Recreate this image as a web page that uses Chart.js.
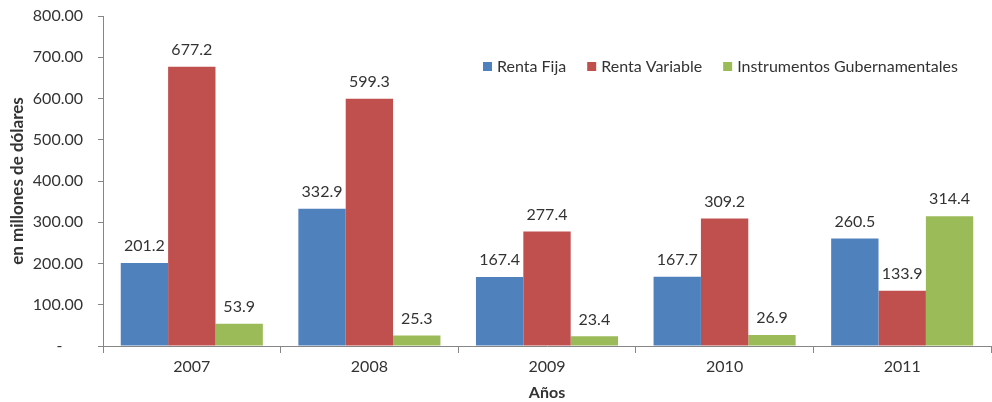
<!DOCTYPE html>
<html>
<head>
<meta charset="utf-8">
<script src="https://cdn.jsdelivr.net/npm/chart.js@4"></script>
<style>
  body { margin: 0; background: #fff; }
  #wrap { width: 992px; height: 402px; }
</style>
</head>
<body>
<div id="wrap"><canvas id="myChart" width="992" height="402"></canvas></div>
<script>
const years = ['2007', '2008', '2009', '2010', '2011'];
const rentaFija = [201.2, 332.9, 167.4, 167.7, 260.5];
const rentaVariable = [677.2, 599.3, 277.4, 309.2, 133.9];
const gubernamentales = [53.9, 25.3, 23.4, 26.9, 314.4];
const seriesNames = ['Renta Fija', 'Renta Variable', 'Instrumentos Gubernamentales'];
const colors = ['#4F81BD', '#C0504D', '#9BBB59'];

const FONT = 'Lato, Calibri, sans-serif';
const TXT = '#333333';

// etiquetas encima de cada barra
const barLabels = {
    id: 'barLabels',
    afterDatasetsDraw(chart) {
        const ctx = chart.ctx;
        ctx.save();
        ctx.font = '16px ' + FONT;
        ctx.fillStyle = TXT;
        ctx.textAlign = 'center';
        ctx.textBaseline = 'bottom';
        chart.data.datasets.forEach((ds, i) => {
            chart.getDatasetMeta(i).data.forEach((bar, j) => {
                ctx.fillText(ds.data[j].toFixed(1), bar.x, bar.y - 9);
            });
        });
        ctx.restore();
    }
};

// leyenda dentro del área del gráfico
const innerLegend = {
    id: 'innerLegend',
    afterDraw(chart) {
        const ctx = chart.ctx;
        ctx.save();
        ctx.font = '16px ' + FONT;
        ctx.textBaseline = 'middle';
        let x = 483;
        const y = 67;
        chart.data.datasets.forEach((ds, i) => {
            ctx.fillStyle = ds.backgroundColor;
            ctx.fillRect(x, y - 5, 9, 9);
            ctx.fillStyle = TXT;
            ctx.fillText(ds.label, x + 14, y);
            x += 14 + ctx.measureText(ds.label).width + 21;
        });
        ctx.restore();
    }
};

new Chart(document.getElementById('myChart'), {
    type: 'bar',
    data: {
        labels: years,
        datasets: [
            { label: seriesNames[0], data: rentaFija, backgroundColor: colors[0] },
            { label: seriesNames[1], data: rentaVariable, backgroundColor: colors[1] },
            { label: seriesNames[2], data: gubernamentales, backgroundColor: colors[2] }
        ]
    },
    options: {
        responsive: false,
        animation: false,
        layout: { padding: { top: 16, right: 1, left: 0, bottom: 0 } },
        datasets: { bar: { categoryPercentage: 0.8, barPercentage: 1.0 } },
        plugins: {
            legend: { display: false },
            tooltip: { enabled: false }
        },
        scales: {
            x: {
                grid: { drawOnChartArea: false, color: '#868686', tickLength: 7, offset: true },
                border: { color: '#868686' },
                ticks: { color: TXT, font: { family: FONT, size: 16 }, padding: 4 },
                title: { display: true, text: 'Años', color: TXT, font: { family: FONT, size: 16, weight: 'bold' }, padding: { top: 8, bottom: 0 } },
                afterFit(scale) { scale.height = 56; scale.paddingLeft = 0; scale.paddingRight = 0; }
            },
            y: {
                min: 0,
                max: 800,
                grid: { drawOnChartArea: false, color: '#868686', tickLength: 5 },
                border: { color: '#868686' },
                ticks: {
                    stepSize: 100,
                    color: TXT,
                    padding: 15,
                    font: { family: FONT, size: 16 },
                    callback: function(value) {
                        return value === 0 ? '-     ' : value.toFixed(2);
                    }
                },
                title: { display: true, text: 'en millones de dólares', color: TXT, font: { family: FONT, size: 17, weight: 'bold' }, padding: { top: 7, bottom: 0 } },
                afterFit(scale) { scale.width = 103; scale.paddingTop = 0; scale.paddingBottom = 0; }
            }
        }
    },
    plugins: [barLabels, innerLegend]
});
</script>
</body>
</html>
